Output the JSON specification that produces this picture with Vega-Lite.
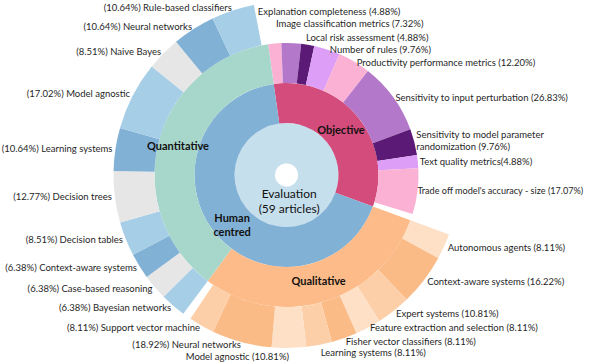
{
  "$schema": "https://vega.github.io/schema/vega-lite/v6.json",
  "autosize": {"type": "none"},
  "width": 573,
  "height": 350,
  "padding": {"left": 0, "top": 0, "right": 17, "bottom": 13},
  "background": "white",
  "config": {"view": {"stroke": null}, "text": {"font": "Lato", "fontSize": 9.5, "color": "#1f1f1f"}},
  "data": {"values": [
    {"ring": "E", "key": "Evaluation", "n": 125, "o": 1, "label": "Evaluation\n(59 articles)"},
    {"ring": "1", "key": "Objective", "n": 41, "o": 1, "label": "Objective"},
    {"ring": "1", "key": "Human centred", "n": 84, "o": 2, "label": "Human\ncentred"},
    {"ring": "2", "key": "O|Explanation completeness", "n": 2, "o": 1, "label": "Explanation completeness (4.88%)"},
    {"ring": "2", "key": "O|Image classification metrics", "n": 3, "o": 2, "label": "Image classification metrics (7.32%)"},
    {"ring": "2", "key": "O|Local risk assessment", "n": 2, "o": 3, "label": "Local risk assessment (4.88%)"},
    {"ring": "2", "key": "O|Number of rules", "n": 4, "o": 4, "label": "Number of rules (9.76%)"},
    {"ring": "2", "key": "O|Productivity performance metrics", "n": 5, "o": 5, "label": "Productivity performance metrics (12.20%)"},
    {"ring": "2", "key": "O|Sensitivity to input perturbation", "n": 11, "o": 6, "label": "Sensitivity to input perturbation (26.83%)"},
    {"ring": "2", "key": "O|Sensitivity to model parameter randomization", "n": 4, "o": 7, "label": "Sensitivity to model parameter\nrandomization (9.76%)"},
    {"ring": "2", "key": "O|Text quality metrics", "n": 2, "o": 8, "label": "Text quality metrics(4.88%)"},
    {"ring": "2", "key": "O|Trade off model's accuracy - size", "n": 7, "o": 9, "label": "Trade off model's accuracy - size (17.07%)"},
    {"ring": "2", "key": "O|unlisted", "n": 1, "o": 10, "label": ""},
    {"ring": "2", "key": "Qualitative", "n": 37, "o": 11, "label": "Qualitative"},
    {"ring": "2", "key": "Quantitative", "n": 47, "o": 12, "label": "Quantitative"},
    {"ring": "3", "key": "R3|Objective", "n": 41, "o": 1, "label": ""},
    {"ring": "3", "key": "L|Autonomous agents", "n": 3, "o": 2, "label": "Autonomous agents (8.11%)"},
    {"ring": "3", "key": "L|Context-aware systems", "n": 6, "o": 3, "label": "Context-aware systems (16.22%)"},
    {"ring": "3", "key": "L|Expert systems", "n": 4, "o": 4, "label": "Expert systems (10.81%)"},
    {"ring": "3", "key": "L|Feature extraction and selection", "n": 3, "o": 5, "label": "Feature extraction and selection (8.11%)"},
    {"ring": "3", "key": "L|Fisher vector classifiers", "n": 3, "o": 6, "label": "Fisher vector classifiers (8.11%)"},
    {"ring": "3", "key": "L|Learning systems", "n": 3, "o": 7, "label": "Learning systems (8.11%)"},
    {"ring": "3", "key": "L|Model agnostic", "n": 4, "o": 8, "label": "Model agnostic (10.81%)"},
    {"ring": "3", "key": "L|Neural networks", "n": 7, "o": 9, "label": "(18.92%) Neural networks"},
    {"ring": "3", "key": "L|Support vector machine", "n": 3, "o": 10, "label": "(8.11%) Support vector machine"},
    {"ring": "3", "key": "L|unlisted", "n": 1, "o": 11, "label": ""},
    {"ring": "3", "key": "Q|Bayesian networks", "n": 3, "o": 12, "label": "(6.38%) Bayesian networks"},
    {"ring": "3", "key": "Q|Case-based reasoning", "n": 3, "o": 13, "label": "(6.38%) Case-based reasoning"},
    {"ring": "3", "key": "Q|Context-aware systems", "n": 3, "o": 14, "label": "(6.38%) Context-aware systems"},
    {"ring": "3", "key": "Q|Decision tables", "n": 4, "o": 15, "label": "(8.51%) Decision tables"},
    {"ring": "3", "key": "Q|Decision trees", "n": 6, "o": 16, "label": "(12.77%) Decision trees"},
    {"ring": "3", "key": "Q|Learning systems", "n": 5, "o": 17, "label": "(10.64%) Learning systems"},
    {"ring": "3", "key": "Q|Model agnostic", "n": 8, "o": 18, "label": "(17.02%) Model agnostic"},
    {"ring": "3", "key": "Q|Naive Bayes", "n": 4, "o": 19, "label": "(8.51%) Naive Bayes"},
    {"ring": "3", "key": "Q|Neural networks", "n": 5, "o": 20, "label": "(10.64%) Neural networks"},
    {"ring": "3", "key": "Q|Rule-based classifiers", "n": 5, "o": 21, "label": "(10.64%) Rule-based classifiers"},
    {"ring": "3", "key": "Q|unlisted", "n": 1, "o": 22, "label": ""}
  ]},
  "encoding": {
    "theta": {"field": "n", "type": "quantitative", "stack": true, "scale": {"domain": [0, 125], "range": [-0.1396, 6.1436]}},
    "order": {"field": "o", "type": "quantitative"}
  },
  "layer": [
    {"transform": [{"filter": "datum.ring == 'E'"}], "mark": {"type": "arc", "radius": 52, "radius2": 11.5},
     "encoding": {"color": {"field": "key", "type": "nominal", "legend": null, "scale": {
       "domain": ["Evaluation", "Objective", "Human centred",
         "O|Explanation completeness", "O|Image classification metrics", "O|Local risk assessment", "O|Number of rules", "O|Productivity performance metrics", "O|Sensitivity to input perturbation", "O|Sensitivity to model parameter randomization", "O|Text quality metrics", "O|Trade off model's accuracy - size", "O|unlisted",
         "Qualitative", "Quantitative", "R3|Objective",
         "L|Autonomous agents", "L|Context-aware systems", "L|Expert systems", "L|Feature extraction and selection", "L|Fisher vector classifiers", "L|Learning systems", "L|Model agnostic", "L|Neural networks", "L|Support vector machine", "L|unlisted",
         "Q|Bayesian networks", "Q|Case-based reasoning", "Q|Context-aware systems", "Q|Decision tables", "Q|Decision trees", "Q|Learning systems", "Q|Model agnostic", "Q|Naive Bayes", "Q|Neural networks", "Q|Rule-based classifiers", "Q|unlisted"],
       "range": ["#c6dfed", "#d44c7b", "#82b1d6",
         "#fbb1d4", "#b378c9", "#5c1a77", "#dc9ef6", "#fbb1d4", "#b378c9", "#5c1a77", "#dc9ef6", "#fbb1d4", "rgba(255,255,255,0)",
         "#fcbb88", "#a7d7ca", "rgba(255,255,255,0)",
         "#fde0c6", "#fbbb87", "#fdcfa8", "#fde0c6", "#fbbb87", "#fdcfa8", "#fde0c6", "#fbbb87", "#fdcfa8", "rgba(255,255,255,0)",
         "#a6cee7", "#e6e6e6", "#82b1d6", "#a6cee7", "#e6e6e6", "#82b1d6", "#a6cee7", "#e6e6e6", "#82b1d6", "#a6cee7", "rgba(255,255,255,0)"]}}}},
    {"transform": [{"filter": "datum.ring == '1'"}], "mark": {"type": "arc", "radius": 92, "radius2": 52},
     "encoding": {"color": {"field": "key", "type": "nominal", "legend": null}}},
    {"transform": [{"filter": "datum.ring == '2'"}], "mark": {"type": "arc", "radius": 132, "radius2": 92},
     "encoding": {"color": {"field": "key", "type": "nominal", "legend": null}}},
    {"transform": [{"filter": "datum.ring == '3'"}], "mark": {"type": "arc", "radius": 173, "radius2": 132},
     "encoding": {"color": {"field": "key", "type": "nominal", "legend": null}}},
    {"transform": [{"filter": "datum.ring == 'E'"}], "mark": {"type": "text", "radius": 19, "align": "center", "baseline": "middle", "fontSize": 12, "lineBreak": "\n", "lineHeight": 15, "color": "#111"},
     "encoding": {"text": {"field": "label", "type": "nominal"}}},
    {"transform": [{"filter": "datum.ring == '1'"}], "mark": {"type": "text", "radius": 70, "align": "center", "baseline": "middle", "fontSize": 11, "fontWeight": "bold", "lineBreak": "\n", "lineHeight": 14, "color": "#111"},
     "encoding": {"text": {"field": "label", "type": "nominal"}, "detail": {"field": "key"}}},
    {"transform": [{"filter": "datum.ring == '2'"}], "mark": {"type": "text", "radius": 112, "align": "center", "baseline": "middle", "fontSize": 11, "fontWeight": "bold", "color": "#111"},
     "encoding": {"text": {"condition": {"test": "datum.key == 'Qualitative' || datum.key == 'Quantitative'", "field": "label", "type": "nominal"}, "value": ""}, "detail": {"field": "key"}}},
    {"transform": [{"filter": "datum.ring == '2'"}], "mark": {"type": "text", "radius": 131, "align": "left", "baseline": "middle", "dx": 3},
     "encoding": {"text": {"condition": {"test": "indexof(['O|Number of rules', 'O|Productivity performance metrics', 'O|Sensitivity to input perturbation', 'O|Text quality metrics'], datum.key) >= 0", "field": "label", "type": "nominal"}, "value": ""}, "detail": {"field": "key"}}},
    {"transform": [{"filter": "datum.ring == '2'"}], "mark": {"type": "text", "radius": 131, "align": "left", "baseline": "middle", "dx": 1, "fontSize": 9.1},
     "encoding": {"text": {"condition": {"test": "datum.key == 'O|Trade off model\\'s accuracy - size'", "field": "label", "type": "nominal"}, "value": ""}, "detail": {"field": "key"}}},
    {"transform": [{"filter": "datum.ring == '2'"}], "mark": {"type": "text", "radius": 131, "align": "left", "baseline": "middle", "dx": 3, "dy": -7, "lineBreak": "\n", "lineHeight": 12},
     "encoding": {"text": {"condition": {"test": "datum.key == 'O|Sensitivity to model parameter randomization'", "field": "label", "type": "nominal"}, "value": ""}, "detail": {"field": "key"}}},
    {"transform": [{"filter": "datum.ring == '2'"}], "mark": {"type": "text", "radius": 139, "align": "left", "baseline": "middle", "dx": -3},
     "encoding": {"text": {"condition": {"test": "datum.key == 'O|Local risk assessment'", "field": "label", "type": "nominal"}, "value": ""}, "detail": {"field": "key"}}},
    {"transform": [{"filter": "datum.ring == '2'"}], "mark": {"type": "text", "radius": 151, "align": "left", "baseline": "middle", "dx": -16},
     "encoding": {"text": {"condition": {"test": "datum.key == 'O|Image classification metrics'", "field": "label", "type": "nominal"}, "value": ""}, "detail": {"field": "key"}}},
    {"transform": [{"filter": "datum.ring == '2'"}], "mark": {"type": "text", "radius": 164, "align": "left", "baseline": "middle", "dx": -14},
     "encoding": {"text": {"condition": {"test": "datum.key == 'O|Explanation completeness'", "field": "label", "type": "nominal"}, "value": ""}, "detail": {"field": "key"}}},
    {"transform": [{"filter": "datum.ring == '3'"}], "mark": {"type": "text", "radius": 177, "align": "left", "baseline": "middle"},
     "encoding": {"text": {"condition": {"test": "indexof(['L|Autonomous agents', 'L|Context-aware systems', 'L|Expert systems', 'L|Fisher vector classifiers'], datum.key) >= 0", "field": "label", "type": "nominal"}, "value": ""}, "detail": {"field": "key"}}},
    {"transform": [{"filter": "datum.ring == '3'"}], "mark": {"type": "text", "radius": 177, "align": "left", "baseline": "middle", "dy": -3},
     "encoding": {"text": {"condition": {"test": "datum.key == 'L|Feature extraction and selection'", "field": "label", "type": "nominal"}, "value": ""}, "detail": {"field": "key"}}},
    {"transform": [{"filter": "datum.ring == '3'"}], "mark": {"type": "text", "radius": 181, "align": "left", "baseline": "middle"},
     "encoding": {"text": {"condition": {"test": "datum.key == 'L|Learning systems'", "field": "label", "type": "nominal"}, "value": ""}, "detail": {"field": "key"}}},
    {"transform": [{"filter": "datum.ring == '3'"}], "mark": {"type": "text", "radius": 176, "align": "right", "baseline": "middle"},
     "encoding": {"text": {"condition": {"test": "indexof(['L|Neural networks', 'L|Support vector machine'], datum.key) >= 0 || indexof(datum.key, 'Q|') == 0", "field": "label", "type": "nominal"}, "value": ""}, "detail": {"field": "key"}}},
    {"transform": [{"filter": "datum.ring == '3'"}], "mark": {"type": "text", "radius": 182, "align": "right", "baseline": "middle"},
     "encoding": {"text": {"condition": {"test": "datum.key == 'L|Model agnostic'", "field": "label", "type": "nominal"}, "value": ""}, "detail": {"field": "key"}}}
  ]
}
